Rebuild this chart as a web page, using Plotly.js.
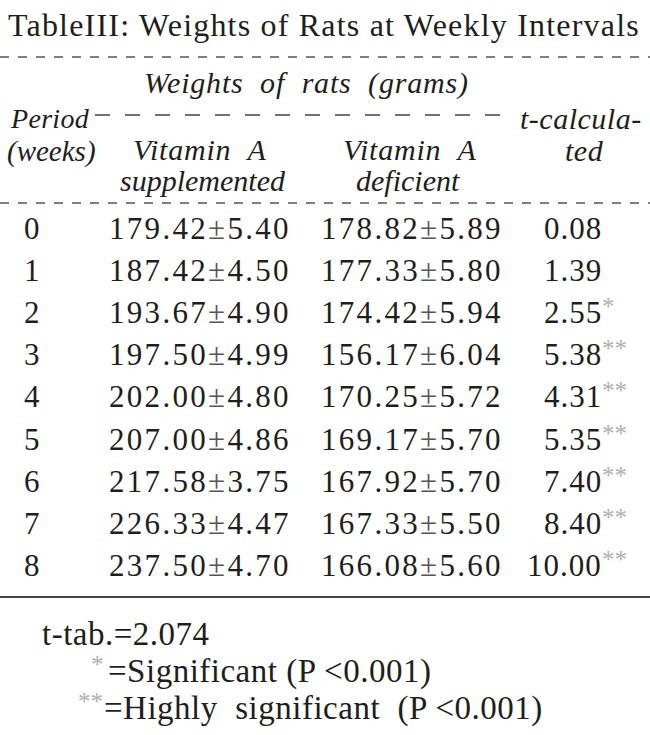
<!DOCTYPE html>
<html><head><meta charset="utf-8">
<script src="https://cdn.plot.ly/plotly-3.0.1.min.js"></script>
<style>html,body{margin:0;padding:0;background:#fff;}#c{width:650px;height:735px;}</style>
</head><body><div id="c"></div>
<script>
const periods = [0,1,2,3,4,5,6,7,8];
const suppMean = [179.42,187.42,193.67,197.50,202.00,207.00,217.58,226.33,237.50];
const suppSE = [5.40,4.50,4.90,4.99,4.80,4.86,3.75,4.47,4.70];
const defMean = [178.82,177.33,174.42,156.17,170.25,169.17,167.92,167.33,166.08];
const defSE = [5.89,5.80,5.94,6.04,5.72,5.70,5.70,5.50,5.60];
const tCalc = [0.08,1.39,2.55,5.38,4.31,5.35,7.40,8.40,10.00];
const stars = [0,0,1,2,2,2,2,2,2];
const titleText = "TableIII: Weights of Rats at Weekly Intervals";
const tTab = "2.074";

const ink = "#1e1e1e";
const serif = "Liberation Serif";
const ann = [];
function A(x,y,text,size,opts){ ann.push(Object.assign({x:x,y:y,xref:'x',yref:'y',text:text,showarrow:false,
  font:{family:serif,size:size,color:ink},xanchor:'center',yanchor:'middle'},opts||{})); }
function LS(t,px){ return '<span style="letter-spacing:'+px+'px">'+t+'</span>'; }
const starTxt = n => '<span style="color:#b0b0b0">'+"*".repeat(n)+'</span>';
const pm = '<span style="color:#555">±</span>';

A(324,25,LS(titleText,1.2),32);
// header
A(306,83,"<i>"+LS("Weights  of  rats  (grams)",0.8)+"</i>",30);
A(50,118,"<i>"+LS("Period",0.3)+"</i>",28);
A(51,151,"<i>"+LS("(weeks)",0)+"</i>",29);
A(200,149,"<i>"+LS("Vitamin  A",0.8)+"</i>",30);
A(203,180,"<i>"+LS("supplemented",0)+"</i>",30);
A(410,149,"<i>"+LS("Vitamin  A",0.8)+"</i>",30);
A(408,180,"<i>"+LS("deficient",0)+"</i>",30);
A(581,118,"<i>"+LS("t-calcula-",0.5)+"</i>",30);
A(584,150,"<i>"+LS("ted",0.5)+"</i>",30);

const y0 = 228, step = 42.2;
periods.forEach((p,i)=>{
  const y = y0 + i*step;
  A(32,y,String(p),31);
  A(200,y,LS(suppMean[i].toFixed(2)+pm+suppSE[i].toFixed(2),2.3),31);
  A(412,y,LS(defMean[i].toFixed(2)+pm+defSE[i].toFixed(2),2.3),31);
  A(604,y,LS(tCalc[i].toFixed(2),1),31,{xanchor:'right'});
  if (stars[i]) A(600,y-6,starTxt(stars[i]),25,{xanchor:'left'});
});

A(40,634,LS("t-tab.=" + tTab,0.5),33,{xanchor:'left'});
A(89,664,starTxt(1),25,{xanchor:'left'});
A(106,671,LS("=Significant (P <0.001)",0.5),33,{xanchor:'left'});
A(76,701,starTxt(2),25,{xanchor:'left'});
A(102,708,LS("=Highly  significant  (P <0.001)",0.5),33,{xanchor:'left'});

const shapes = [
  {type:'line',xref:'x',yref:'y',x0:0,x1:650,y0:57,y1:57,line:{color:'#555',width:1.5,dash:'dash'}},
  {type:'line',xref:'x',yref:'y',x0:95,x1:512,y0:115,y1:115,line:{color:'#444',width:1.5,dash:'longdash'}},
  {type:'line',xref:'x',yref:'y',x0:0,x1:650,y0:203,y1:203,line:{color:'#555',width:1.5,dash:'dash'}},
  {type:'line',xref:'x',yref:'y',x0:0,x1:650,y0:597,y1:597,line:{color:'#444',width:2}}
];

Plotly.newPlot('c',[],{
  width:650,height:735,margin:{l:0,r:0,t:0,b:0},
  paper_bgcolor:'#fff',plot_bgcolor:'#fff',
  xaxis:{range:[0,650],visible:false,fixedrange:true},
  yaxis:{range:[735,0],visible:false,fixedrange:true},
  annotations:ann,shapes:shapes,showlegend:false
},{displayModeBar:false,staticPlot:true});
</script></body></html>
